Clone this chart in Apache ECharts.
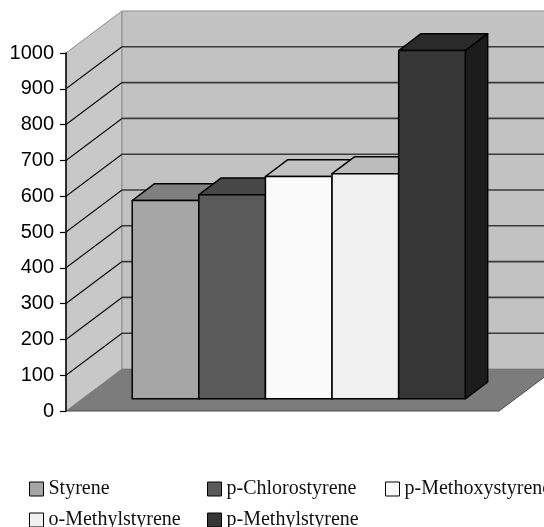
<!DOCTYPE html>
<html>
<head>
<meta charset="utf-8">
<title>Styrene bars</title>
<script src="https://cdn.jsdelivr.net/npm/echarts@6/dist/echarts.min.js"></script>
<style>
  html, body { margin: 0; padding: 0; background: #fff; }
  #chart { width: 544px; height: 527px; }
</style>
</head>
<body>
<div id="chart"></div>
<script>
// data
const monomers = ['Styrene', 'p-Chlorostyrene', 'p-Methoxystyrene', 'o-Methylstyrene', 'p-Methylstyrene'];
const values = [554, 570, 621, 629, 973];
const yTicks = [0, 100, 200, 300, 400, 500, 600, 700, 800, 900, 1000];

// face colours: front / top / side
const faces = [
  ['#a5a5a5', '#808080', '#6a6a6a'],
  ['#5a5a5a', '#474747', '#3a3a3a'],
  ['#fafafa', '#c2c2c2', '#a8a8a8'],
  ['#f0f0f0', '#bcbcbc', '#a4a4a4'],
  ['#363636', '#2a2a2a', '#1c1c1c']
];

// 3d depth of the box (pixels), bar sits inside it
const DX = 56, DY = -42;
const F0 = 0.29, FD = 0.4;
const XMIN = -0.75, XMAX = 5.75;

function wallItem(params, api) {
  const fl = api.coord([XMIN, 0]);
  const ft = api.coord([XMIN, yTicks[yTicks.length - 1]]);
  const fr = api.coord([XMAX, 0]);
  const kids = [];
  // floor
  kids.push({
    type: 'polygon',
    shape: { points: [[fl[0], fl[1]], [fr[0], fr[1]], [fr[0] + DX, fr[1] + DY], [fl[0] + DX, fl[1] + DY]] },
    style: { fill: '#7c7c7c', stroke: '#4a4a4a', lineWidth: 1 }
  });
  // side wall
  kids.push({
    type: 'polygon',
    shape: { points: [[fl[0], fl[1]], [ft[0], ft[1]], [ft[0] + DX, ft[1] + DY], [fl[0] + DX, fl[1] + DY]] },
    style: { fill: '#c8c8c8', stroke: '#8c8c8c', lineWidth: 1 }
  });
  // back wall
  kids.push({
    type: 'polygon',
    shape: { points: [[ft[0] + DX, ft[1] + DY], [fr[0] + DX, ft[1] + DY], [fr[0] + DX, fr[1] + DY], [fl[0] + DX, fl[1] + DY]] },
    style: { fill: '#c2c2c2', stroke: '#8c8c8c', lineWidth: 1 }
  });
  // grid lines on side and back wall
  yTicks.forEach(function (v, k) {
    if (k === 0 || k === yTicks.length - 1) return;
    const p = api.coord([XMIN, v]);
    kids.push({
      type: 'line',
      shape: { x1: p[0], y1: p[1], x2: p[0] + DX, y2: p[1] + DY },
      style: { stroke: '#111', lineWidth: 1.2 }
    });
    kids.push({
      type: 'line',
      shape: { x1: p[0] + DX, y1: p[1] + DY, x2: fr[0] + DX, y2: p[1] + DY },
      style: { stroke: '#3a3a3a', lineWidth: 1.6 }
    });
  });
  return { type: 'group', children: kids };
}

function barItem(params, api) {
  const i = api.value(0);
  const b0 = api.coord([i, 0]);
  const b1 = api.coord([i + 1, api.value(1)]);
  const ox = F0 * DX, oy = F0 * DY;
  const dx = FD * DX, dy = FD * DY;
  const x0 = b0[0] + ox, x1 = b1[0] + ox;
  const yb = b0[1] + oy, yt = b1[1] + oy;
  const c = faces[i];
  const edge = { stroke: '#000', lineWidth: 1.5, lineJoin: 'round' };
  return {
    type: 'group',
    children: [
      {
        type: 'polygon',
        shape: { points: [[x1, yt], [x1, yb], [x1 + dx, yb + dy], [x1 + dx, yt + dy]] },
        style: Object.assign({ fill: c[2] }, edge)
      },
      {
        type: 'polygon',
        shape: { points: [[x0, yt], [x1, yt], [x1 + dx, yt + dy], [x0 + dx, yt + dy]] },
        style: Object.assign({ fill: c[1] }, edge)
      },
      {
        type: 'rect',
        shape: { x: x0, y: yt, width: x1 - x0, height: yb - yt },
        style: Object.assign({ fill: c[0] }, edge)
      }
    ]
  };
}

const series = [{
  type: 'custom',
  name: 'walls',
  clip: false,
  silent: true,
  z: 1,
  renderItem: wallItem,
  data: [[0, 0]]
}];
monomers.forEach(function (name, i) {
  series.push({
    type: 'custom',
    name: name,
    clip: false,
    z: 2 + i,
    itemStyle: { color: faces[i][0], borderColor: '#000', borderWidth: 1 },
    renderItem: barItem,
    data: [[i, values[i]]]
  });
});

// one legend per entry so the columns line up
const legendPos = [[29, 479], [207, 479], [385, 479], [29, 510], [207, 510]];
const legends = monomers.map(function (name, i) {
  return {
    data: [name],
    left: legendPos[i][0],
    top: legendPos[i][1],
    padding: 0,
    icon: 'rect',
    itemWidth: 14,
    itemHeight: 14,
    selectedMode: false,
    itemStyle: { borderColor: '#000', borderWidth: 1 },
    textStyle: { fontFamily: 'Liberation Serif', fontSize: 20, color: '#111' }
  };
});

const option = {
  backgroundColor: '#fff',
  animation: false,
  legend: legends,
  grid: { left: 66, top: 53, width: 433, height: 358, containLabel: false },
  xAxis: { type: 'value', min: XMIN, max: XMAX, show: false },
  yAxis: {
    type: 'value',
    min: 0,
    max: 1000,
    interval: 100,
    z: 10,
    axisLine: { show: true, onZero: false, lineStyle: { color: '#000', width: 1.5 } },
    axisTick: { show: true, length: 6, lineStyle: { color: '#000', width: 1.2 } },
    splitLine: { show: false },
    axisLabel: {
      margin: 12,
      fontFamily: 'Liberation Sans',
      fontSize: 20,
      color: '#000',
      formatter: function (v) { return String(v); }
    }
  },
  series: series
};

const myChart = echarts.init(document.getElementById('chart'));
myChart.setOption(option);
</script>
</body>
</html>
